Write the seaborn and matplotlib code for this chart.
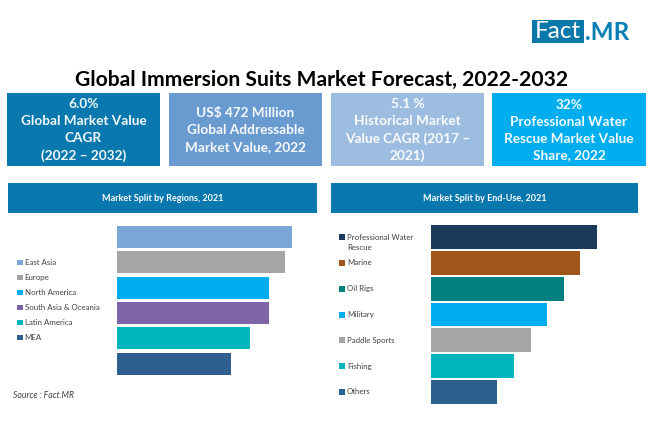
import matplotlib
matplotlib.use('Agg')
import matplotlib.pyplot as plt
from matplotlib.patches import Rectangle
import pandas as pd
import seaborn as sns

# bar lengths (no axis in the original, relative units)
regions = ['East Asia', 'Europe', 'North America', 'South Asia & Oceania', 'Latin America', 'MEA']
region_values = [175, 168, 152, 152, 133, 114]
region_colors = ['#7ba7d7', '#a5a5a5', '#00aeef', '#8064a8', '#00b4bd', '#2e5f8f']

end_uses = ['Professional Water\nRescue', 'Marine', 'Oil Rigs', 'Military', 'Paddle Sports', 'Fishing', 'Others']
end_use_values = [166, 149, 133, 116, 100, 83, 66]
end_use_colors = ['#1b3a5c', '#a0561a', '#008080', '#00aeef', '#a5a5a5', '#00b4bd', '#2e5f8f']

kpi_texts = ['6.0%\nGlobal Market Value\nCAGR\n(2022 – 2032)',
             'US$ 472 Million\nGlobal Addressable\nMarket Value, 2022',
             '5.1 %\nHistorical Market\nValue CAGR (2017 –\n2021)',
             '32%\nProfessional Water\nRescue Market Value\nShare, 2022']
kpi_colors = ['#0878ae', '#6a9bd0', '#9dbde0', '#00aeef']

W, H = 650, 443
text_col = '#404040'

sns.set_theme(style='white')
plt.rcParams['font.family'] = ['Lato', 'DejaVu Sans']

fig = plt.figure(figsize=(W / 100, H / 100), dpi=100)


def px_box(x0, y0, x1, y1, color):
    fig.add_artist(Rectangle((x0 / W, 1 - y1 / H), (x1 - x0) / W, (y1 - y0) / H,
                             transform=fig.transFigure, facecolor=color, edgecolor='none'))


def px_text(x, y, s, **kw):
    fig.text(x / W, 1 - y / H, s, **kw)


def px_axes(x0, y0, x1, y1):
    ax = fig.add_axes([x0 / W, 1 - y1 / H, (x1 - x0) / W, (y1 - y0) / H])
    return ax


# logo
px_box(532, 20, 584, 43, '#0a78a8')
px_text(535, 32, 'Fact', color='white', fontsize=17.5, ha='left', va='center')
px_text(585, 32, '.MR', color='#0a7fb5', fontsize=17.5, fontweight='bold', ha='left', va='center')

# title
px_text(321.5, 80, 'Global Immersion Suits Market Forecast, 2022-2032', color='black',
        fontsize=15.2, fontweight='bold', ha='center', va='center')

# kpi boxes
kpi_x = [(7, 160), (169, 322), (331, 484), (492, 646)]
for (x0, x1), s, c in zip(kpi_x, kpi_texts, kpi_colors):
    px_box(x0, 93, x1, 165.5, c)
    px_text((x0 + x1) / 2, 130, s, color='white', fontsize=9.8, fontweight='bold',
            ha='center', va='center', linespacing=1.5, alpha=0.95)

# section headers
px_box(8, 183, 317, 213, '#0878ae')
px_box(331, 183, 638, 213, '#0878ae')
px_text(162.5, 198.5, 'Market Split by Regions, 2021', color='white', fontsize=6.5,
        fontweight='bold', ha='center', va='center')
px_text(484.5, 198.5, 'Market Split by End-Use, 2021', color='white', fontsize=6.5,
        fontweight='bold', ha='center', va='center')

# left chart
df_reg = pd.DataFrame({'region': regions, 'value': region_values})
ax1 = px_axes(117, 224.2, 317, 376.4)
sns.barplot(data=df_reg, x='value', y='region', hue='region', palette=region_colors,
            dodge=False, width=0.87, saturation=1, linewidth=0, ax=ax1, legend=True)
ax1.set_xlim(0, 200)
ax1.set_axis_off()
sns.move_legend(ax1, loc='center left', bbox_to_anchor=(-100 / 200, 0.5),
                frameon=False, title=None, fontsize=5.7, labelspacing=1.02,
                handlelength=0.7, handleheight=0.7, handletextpad=0.25,
                borderpad=0, borderaxespad=0, labelcolor=text_col)

# right chart
df_use = pd.DataFrame({'use': end_uses, 'value': end_use_values})
ax2 = px_axes(431, 224.1, 631, 404.9)
sns.barplot(data=df_use, x='value', y='use', hue='use', palette=end_use_colors,
            dodge=False, width=0.92, saturation=1, linewidth=0, ax=ax2, legend=False)
ax2.set_xlim(0, 200)
ylim2 = ax2.get_ylim()
ax2.set_axis_off()
# labels sit on the bar rows, second line of a wrapped label hangs below
trans = ax2.get_yaxis_transform()
for i, (label, c) in enumerate(zip(end_uses, end_use_colors)):
    ax2.scatter(-89 / 200, i, marker='s', s=13, color=c, transform=trans, clip_on=False, linewidths=0)
    for j, line in enumerate(label.split('\n')):
        ax2.text(-84 / 200, i + j * 0.41, line, transform=trans, color=text_col,
                 fontsize=5.7, ha='left', va='center', clip_on=False)
ax2.set_ylim(ylim2)

# source note
px_text(13, 396, 'Source : Fact.MR', color=text_col, fontsize=6.2, style='italic', ha='left', va='center')

fig.savefig('out.png', dpi=100)
